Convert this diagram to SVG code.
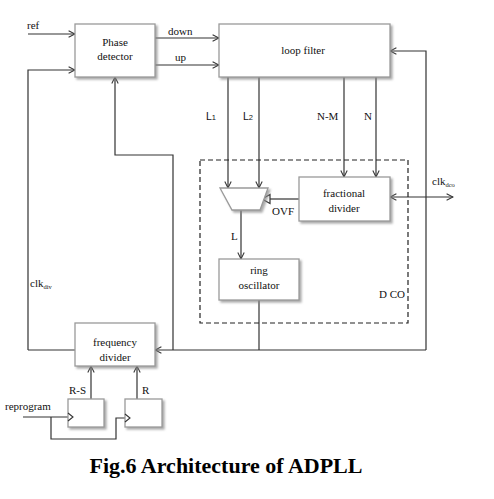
<svg xmlns="http://www.w3.org/2000/svg" width="494" height="499" viewBox="0 0 494 499">
<style>
.box{fill:#fff;stroke:#9a9a9a;stroke-width:1.3;filter:url(#sh)}
.ln{fill:none;stroke:#333;stroke-width:1.2}
.arr{marker-end:url(#ah)}
.t{font-family:"Liberation Serif",serif;font-size:11px;fill:#111}
.s{font-family:"Liberation Sans",sans-serif;font-size:10.5px;fill:#111}
.c{text-anchor:middle}
</style>
<defs>
<filter id="sh" x="-10%" y="-10%" width="130%" height="140%">
<feDropShadow dx="2" dy="2" stdDeviation="1.2" flood-color="#888" flood-opacity="0.7"/>
</filter>
<marker id="ah" viewBox="0 0 10 10" refX="9" refY="5" markerWidth="8" markerHeight="8" orient="auto" markerUnits="userSpaceOnUse">
<path d="M1,1 L9,5 L1,9" fill="none" stroke="#333" stroke-width="1.3"/>
</marker>
<marker id="as" viewBox="0 0 10 10" refX="9" refY="5" markerWidth="8" markerHeight="8" orient="auto-start-reverse" markerUnits="userSpaceOnUse">
<path d="M1,1 L9,5 L1,9" fill="none" stroke="#333" stroke-width="1.3"/>
</marker>
</defs>
<rect width="494" height="499" fill="#fff"/>

<g id="connectors">
<path class="ln arr" d="M28,34 H75"/>
<path class="ln arr" d="M28,350 V70 H75"/>
<path class="ln arr" d="M155,38 H219"/>
<path class="ln arr" d="M155,65 H219"/>
<path class="ln arr" d="M426,350 V51 H390"/>
<path class="ln arr" d="M228,77 V188"/>
<path class="ln arr" d="M259,77 V188"/>
<path class="ln arr" d="M344,77 V177"/>
<path class="ln arr" d="M376,77 V177"/>
<path class="ln" d="M299,199 H270"/>
<path d="M262,199 L270,194.5 L270,203.5 Z" fill="#fff" stroke="#333" stroke-width="1.2"/>
<path class="ln arr" d="M241,210 V259"/>
<path class="ln" d="M390,197 H453" marker-start="url(#as)" marker-end="url(#as)"/>
<path class="ln" d="M259,300 V350"/>
<path class="ln arr" d="M426,350 H155"/>
<path class="ln arr" d="M173,350 V155 H115 V77"/>
<path class="ln" d="M28,350 H75"/>
<path class="ln arr" d="M91,399 V366"/>
<path class="ln arr" d="M137,399 V366"/>
<path class="ln" d="M23,417 H68"/>
<path class="ln" d="M51,417 V439 H116 V418 H125"/>
</g>

<g id="phase-detector">
<rect class="box" x="75" y="24" width="80" height="53"/>
<text class="t c" x="115" y="46">Phase</text>
<text class="t c" x="115" y="60">detector</text>
</g>

<g id="loop-filter">
<rect class="box" x="219" y="24" width="171" height="53"/>
<text class="t c" x="303" y="54">loop filter</text>
</g>

<g id="dco">
<rect x="200" y="160" width="208" height="163" fill="none" stroke="#222" stroke-width="1.2" stroke-dasharray="5,3"/>
<text class="t" x="379" y="298">D CO</text>
</g>

<g id="mux">
<path d="M220,188 H268 L260,210 H232 Z" fill="#fff" stroke="#9a9a9a" stroke-width="1.3" filter="url(#sh)"/>
</g>

<g id="fractional-divider">
<rect class="box" x="299" y="177" width="91" height="44"/>
<text class="t c" x="344" y="197">fractional</text>
<text class="t c" x="344" y="212">divider</text>
</g>

<g id="ring-oscillator">
<rect class="box" x="219" y="259" width="80" height="41"/>
<text class="t c" x="259" y="274">ring</text>
<text class="t c" x="259" y="289">oscillator</text>
</g>

<g id="frequency-divider">
<rect class="box" x="75" y="323" width="80" height="43"/>
<text class="t c" x="115" y="346">frequency</text>
<text class="t c" x="115" y="361">divider</text>
</g>

<g id="ff1">
<rect class="box" x="68" y="399" width="36" height="28"/>
<path d="M68,413 L73,417 L68,421" fill="none" stroke="#333" stroke-width="1.1"/>
</g>
<g id="ff2">
<rect class="box" x="125" y="399" width="37" height="28"/>
<path d="M125,414 L130,418 L125,422" fill="none" stroke="#333" stroke-width="1.1"/>
</g>

<g id="labels">
<text class="t" x="27" y="29">ref</text>
<text class="t" x="168" y="35">down</text>
<text class="t" x="175" y="61">up</text>
<text class="s" x="206" y="120">L<tspan font-size="7.5px">1</tspan></text>
<text class="s" x="243" y="120">L<tspan font-size="7.5px">2</tspan></text>
<text class="t" x="317" y="120">N-M</text>
<text class="t" x="364" y="120">N</text>
<text class="t" x="272" y="215">OVF</text>
<text class="t" x="231" y="240">L</text>
<text class="t" x="432" y="185">clk<tspan font-size="6.5px" dy="1.5">dco</tspan></text>
<text class="t" x="30" y="287">clk<tspan font-size="6.5px" dy="1.5">div</tspan></text>
<text class="t" x="69" y="394">R-S</text>
<text class="t" x="142" y="394">R</text>
<text class="t" x="5" y="410">reprogram</text>
</g>

<text x="226" y="473" text-anchor="middle" font-family="Liberation Serif,serif" font-weight="bold" font-size="22px" fill="#000">Fig.6 Architecture of ADPLL</text>
</svg>
